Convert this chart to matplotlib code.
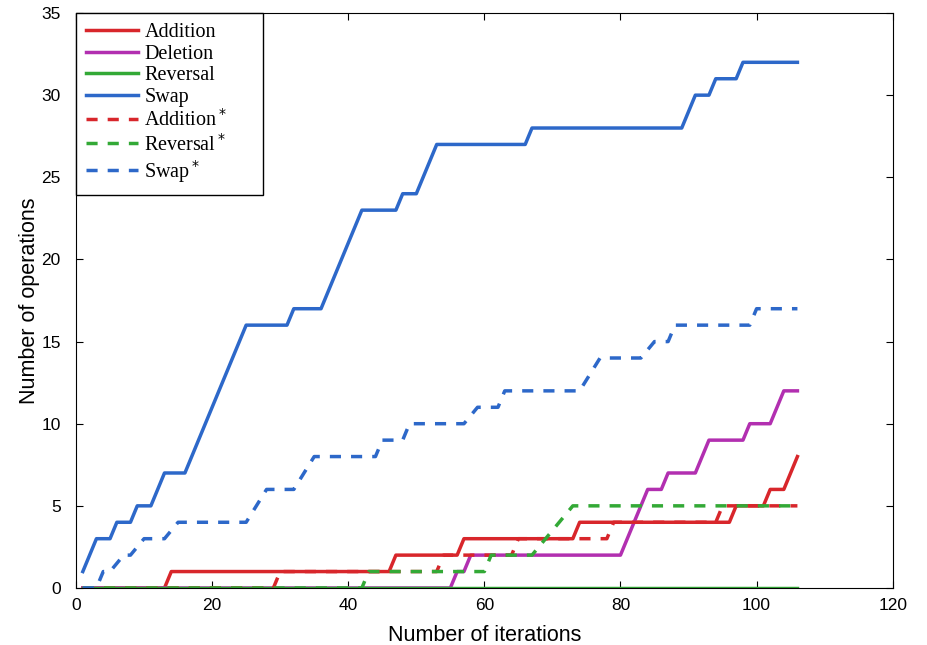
import matplotlib
matplotlib.use("Agg")
import matplotlib.pyplot as plt

# ===================== 数据（从图中读取的折点） =====================
add_x = [1, 13, 14, 46, 47, 56, 57, 73, 74, 96, 97, 101, 102, 104, 106]
add_y = [0, 0, 1, 1, 2, 2, 3, 3, 4, 4, 5, 5, 6, 6, 8]

del_x = [1, 55, 56, 57, 58, 80, 84, 86, 87, 91, 93, 98, 99, 102, 104, 106]
del_y = [0, 0, 1, 1, 2, 2, 6, 6, 7, 7, 9, 9, 10, 10, 12, 12]

rev_x = [1, 106]
rev_y = [0, 0]

swap_x = [1, 3, 5, 6, 8, 9, 11, 13, 16, 25, 31, 32, 36, 42, 47, 48, 50, 53,
          66, 67, 89, 91, 93, 94, 97, 98, 106]
swap_y = [1, 3, 3, 4, 4, 5, 5, 7, 7, 16, 16, 17, 17, 23, 23, 24, 24, 27,
          27, 28, 28, 30, 30, 31, 31, 32, 32]

add2_x = [1, 29, 30, 53, 54, 64, 65, 78, 79, 94, 95, 106]
add2_y = [0, 0, 1, 1, 2, 2, 3, 3, 4, 4, 5, 5]

rev2_x = [1, 42, 43, 60, 61, 67, 73, 106]
rev2_y = [0, 0, 1, 1, 2, 2, 5, 5]

swap2_x = [1, 3, 4, 5, 7, 8, 10, 13, 15, 25, 28, 32, 35, 44, 45, 48, 49, 57,
           59, 62, 63, 74, 77, 83, 85, 87, 88, 99, 100, 106]
swap2_y = [0, 0, 1, 1, 2, 2, 3, 3, 4, 4, 6, 6, 8, 8, 9, 9, 10, 10,
           11, 11, 12, 12, 14, 14, 15, 15, 16, 16, 17, 17]

RED = "#d8262b"
MAG = "#b22fb0"
GREEN = "#33a936"
BLUE = "#2d68c9"
LW = 2.5
DASH = [3.2, 2.9]

# ===================== 绘图 =====================
fig = plt.figure(figsize=(9.27, 6.45), dpi=100)
ax = fig.add_axes([0.082, 0.0884, 0.881, 0.8914])

ax.plot(add_x, add_y, color=RED, lw=LW, label="Addition")
ax.plot(del_x, del_y, color=MAG, lw=LW, label="Deletion")
ax.plot(rev_x, rev_y, color=GREEN, lw=LW, label="Reversal")
ax.plot(swap_x, swap_y, color=BLUE, lw=LW, label="Swap")
ax.plot(add2_x, add2_y, color=RED, lw=LW, dashes=DASH, label="Addition$^*$")
ax.plot(rev2_x, rev2_y, color=GREEN, lw=LW, dashes=DASH, label="Reversal$^*$")
ax.plot(swap2_x, swap2_y, color=BLUE, lw=LW, dashes=DASH, label="Swap$^*$")

ax.set_xlim(0, 120)
ax.set_ylim(0, 35)
ax.set_xticks(range(0, 121, 20))
ax.set_yticks(range(0, 36, 5))
ax.tick_params(direction="in", top=True, right=True, length=5, width=0.8,
               labelsize=12.5)
ax.tick_params(axis="x", pad=7)
ax.tick_params(axis="y", pad=11)
for lab in ax.get_xticklabels() + ax.get_yticklabels():
    lab.set_family("Liberation Sans")

ax.set_xlabel("Number of iterations", fontsize=15.5, family="Liberation Sans",
              labelpad=9)
ax.set_ylabel("Number of operations", fontsize=15.5, family="Liberation Sans",
              labelpad=1)

# 图例框宽度按原图拉伸
leg = ax.legend(loc="upper left", bbox_to_anchor=(0, 1, 0.229, 0),
                mode="expand", borderaxespad=0, fancybox=False,
                framealpha=1, edgecolor="black", handlelength=2.6,
                handletextpad=0.3, labelspacing=0.12, borderpad=0.5,
                prop={"family": "Liberation Serif", "size": 14.5})
leg.get_frame().set_linewidth(1.0)

plt.savefig("out.png", dpi=100)
plt.close()
